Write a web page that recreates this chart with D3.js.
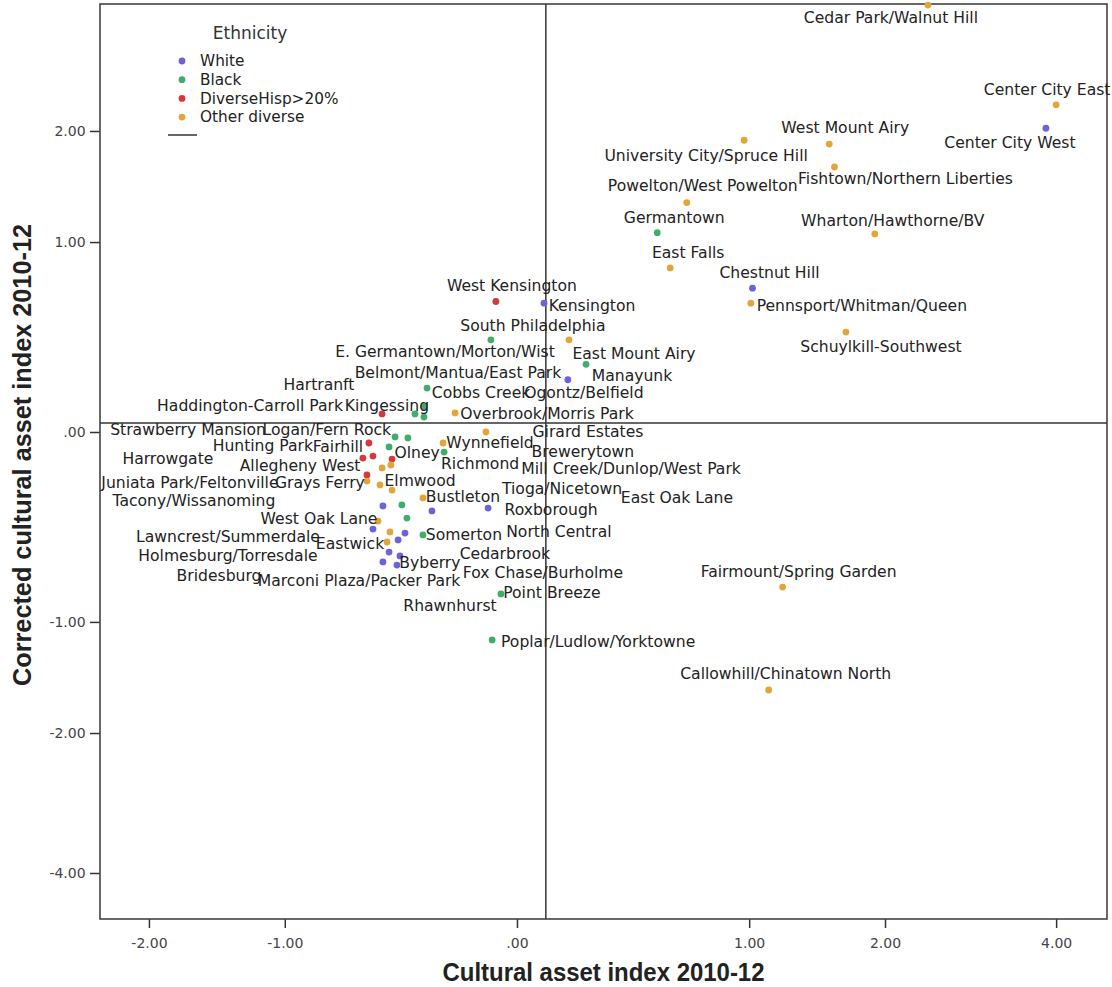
<!DOCTYPE html>
<html><head><meta charset="utf-8">
<script src="https://cdn.jsdelivr.net/npm/d3@7/dist/d3.min.js"></script>
<style>body{margin:0;background:#fff}</style>
</head><body><svg id="c" width="1112" height="987"></svg>
<script>
// ---------- data ----------
const categories = ["White", "Black", "DiverseHisp>20%", "Other diverse"];
const names = [
 "Cedar Park/Walnut Hill","Center City East","Center City West","West Mount Airy","University City/Spruce Hill",
 "Fishtown/Northern Liberties","Powelton/West Powelton","Germantown","Wharton/Hawthorne/BV","East Falls",
 "Chestnut Hill","Pennsport/Whitman/Queen","Schuylkill-Southwest","West Kensington","Kensington",
 "South Philadelphia","East Mount Airy","Manayunk","Ogontz/Belfield","Cobbs Creek",
 "Belmont/Mantua/East Park","Hartranft","Kingessing","Haddington-Carroll Park","Overbrook/Morris Park",
 "Girard Estates","Strawberry Mansion","Logan/Fern Rock","Olney","Hunting Park",
 "Fairhill","Harrowgate","Allegheny West","Wynnefield","Richmond",
 "Brewerytown","Mill Creek/Dunlop/West Park","Juniata Park/Feltonville","Grays Ferry","Elmwood",
 "Tioga/Nicetown","Bustleton","Roxborough","East Oak Lane","Tacony/Wissanoming",
 "North Central","Cedarbrook","West Oak Lane","Lawncrest/Summerdale","Somerton",
 "E. Germantown/Morton/Wist","Eastwick","Marconi Plaza/Packer Park","Rhawnhurst","Bridesburg",
 "Fox Chase/Burholme","Holmesburg/Torresdale","Byberry","Point Breeze","Poplar/Ludlow/Yorktowne",
 "Fairmount/Spring Garden","Callowhill/Chinatown North"
];
const ethnicity = [
 "Other diverse","Other diverse","White","Other diverse","Other diverse",
 "Other diverse","Other diverse","Black","Other diverse","Other diverse",
 "White","Other diverse","Other diverse","DiverseHisp>20%","White",
 "Black","Other diverse","Black","White","Black",
 "Black","Black","Black","DiverseHisp>20%","Other diverse",
 "Other diverse","Black","Black","Black","DiverseHisp>20%",
 "DiverseHisp>20%","DiverseHisp>20%","DiverseHisp>20%","Other diverse","Black",
 "Other diverse","Other diverse","DiverseHisp>20%","Other diverse","Other diverse",
 "Other diverse","Other diverse","White","White","White",
 "Black","Black","Other diverse","White","Black",
 "Other diverse","Other diverse","White","White","White",
 "White","White","White","Black","Black",
 "Other diverse","Other diverse"
];
const culturalIndex = [
 2.41, 4.00, 3.85, 1.54, 0.97,
 1.58, 0.66, 0.52, 1.91, 0.58,
 1.02, 1.01, 1.67, -0.065, 0.084,
 -0.081, 0.168, 0.229, 0.164, -0.308,
 -0.320, -0.356, -0.320, -0.496, -0.203,
 -0.097, -0.439, -0.385, -0.465, -0.556,
 -0.537, -0.584, -0.452, -0.247, -0.243,
 -0.457, -0.496, -0.565, -0.565, -0.505,
 -0.452, -0.324, -0.090, -0.289, -0.492,
 -0.410, -0.389, -0.514, -0.537, -0.324,
 -0.461, -0.474, -0.426, -0.397, -0.465,
 -0.418, -0.492, -0.431, -0.049, -0.077,
 1.21, 1.12
];
const correctedIndex = [
 3.75, 2.30, 2.03, 1.86, 1.90,
 1.63, 1.31, 1.07, 1.06, 0.82,
 0.69, 0.60, 0.44, 0.61, 0.60,
 0.40, 0.40, 0.28, 0.21, 0.174,
 0.096, 0.068, 0.056, 0.068, 0.072,
 0.0, -0.018, -0.022, -0.056, -0.041,
 -0.092, -0.100, -0.104, -0.041, -0.076,
 -0.128, -0.140, -0.170, -0.196, -0.213,
 -0.236, -0.272, -0.320, -0.334, -0.310,
 -0.305, -0.369, -0.384, -0.425, -0.456,
 -0.440, -0.494, -0.483, -0.446, -0.550,
 -0.572, -0.607, -0.625, -0.806, -1.136,
 -0.761, -1.564
];
const xTicks = [-2, -1, 0, 1, 2, 4];
const yTicks = [2, 1, 0, -1, -2, -4];
const refX = 0.09, refY = 0.033;   // reference lines
const xTitle = "Cultural asset index 2010-12";
const yTitle = "Corrected cultural asset index 2010-12";
const legendTitle = "Ethnicity";

// ---------- layout (label placement, px offsets of label centre from point) ----------
const labelOffsets = [
 [-37,13],[-9,-15],[-36,14],[16,-17],[-38,15],
 [71,12],[16,-17],[17,-15],[18,-13],[18,-15],
 [17,-16],[111,2],[35,14],[16,-16],[48,2],
 [42,-14],[65,14],[46,11],[16,13],[54,5],
 [34,-34],[-96,-29],[-37,-12],[-132,-8],[92,1],
 [102,0],[-207,-7],[-81,-8],[28,6],[-106,3],
 [-35,-10],[-195,0],[-92,6],[47,0],[36,11],
 [192,-13],[249,1],[-177,8],[-47,2],[40,-4],
 [170,-2],[40,-1],[63,1],[245,-13],[-189,-5],
 [157,27],[98,35],[-59,-2],[-145,8],[41,0],
 [55,-180],[-37,2],[-39,41],[45,72],[-170,23],
 [143,17],[-155,-6],[33,-2],[51,-1],[106,2],
 [16,-16],[17,-16]
];

const colors = {"White":"#6b63d6","Black":"#3fae6a","DiverseHisp>20%":"#d6393d","Other diverse":"#e3a53a"};

const L = 100, R = 1107, T = 4, B = 919;
const svg = d3.select("#c");
svg.append("rect").attr("width",1112).attr("height",987).attr("fill","#fff");

const x = d3.scaleSymlog().constant(1).domain([-2.472, 4.820]).range([L, R]);
const y = d3.scaleSymlog().constant(1).domain([-4.914, 3.768]).range([B, T]);

const fmt = v => v === 0 ? ".00" : (v < 0 ? "-" : "") + Math.abs(v).toFixed(2);

// axes
const gx = svg.append("g").attr("transform", `translate(0,${B})`)
  .call(d3.axisBottom(x).tickValues(xTicks).tickFormat(fmt).tickSize(9).tickSizeOuter(0));
const gy = svg.append("g").attr("transform", `translate(${L},0)`)
  .call(d3.axisLeft(y).tickValues(yTicks).tickFormat(fmt).tickSize(10).tickSizeOuter(0));
[gx, gy].forEach(g => {
  g.select(".domain").remove();
  g.selectAll(".tick line").attr("stroke", "#333").attr("stroke-width", 1.5);
  g.selectAll(".tick text").attr("font-family", "DejaVu Sans").attr("font-size", 14).attr("fill", "#444");
});
gx.selectAll(".tick text").attr("dy", "1.2em");
gy.selectAll(".tick text").attr("dx", "-0.1em");

// frame
svg.append("rect").attr("x", L).attr("y", T).attr("width", R - L).attr("height", B - T)
  .attr("fill", "none").attr("stroke", "#444").attr("stroke-width", 1.6);

// reference lines
svg.append("line").attr("x1", x(refX)).attr("x2", x(refX)).attr("y1", T).attr("y2", B)
  .attr("stroke", "#333").attr("stroke-width", 1.5);
svg.append("line").attr("x1", L).attr("x2", R).attr("y1", y(refY)).attr("y2", y(refY))
  .attr("stroke", "#333").attr("stroke-width", 1.5);

// points
const data = names.map((n, i) => ({name: n, eth: ethnicity[i], cx: culturalIndex[i], cy: correctedIndex[i], off: labelOffsets[i]}));
svg.append("g").selectAll("circle").data(data).join("circle")
  .attr("cx", d => x(d.cx)).attr("cy", d => y(d.cy)).attr("r", 3.4)
  .attr("fill", d => colors[d.eth]);

svg.append("g").selectAll("text").data(data).join("text")
  .attr("x", d => x(d.cx) + d.off[0]).attr("y", d => y(d.cy) + d.off[1])
  .attr("dy", "0.35em").attr("text-anchor", "middle")
  .attr("font-family", "DejaVu Sans").attr("font-size", 15.6).attr("fill", "#222")
  .text(d => d.name);

// axis titles
svg.append("text").attr("x", (L + R) / 2).attr("y", 981).attr("text-anchor", "middle")
  .attr("font-family", "Liberation Sans, Arial, sans-serif").attr("font-weight", "bold")
  .attr("font-size", 26).attr("fill", "#222")
  .attr("textLength", 322).attr("lengthAdjust", "spacingAndGlyphs").text(xTitle);
svg.append("text").attr("transform", `translate(31,455) rotate(-90)`).attr("text-anchor", "middle")
  .attr("font-family", "Liberation Sans, Arial, sans-serif").attr("font-weight", "bold")
  .attr("font-size", 26).attr("fill", "#222")
  .attr("textLength", 462).attr("lengthAdjust", "spacingAndGlyphs").text(yTitle);

// legend
const lg = svg.append("g");
lg.append("text").attr("x", 250).attr("y", 39).attr("text-anchor", "middle")
  .attr("font-family", "DejaVu Sans").attr("font-size", 17).attr("fill", "#333").text(legendTitle);
categories.forEach((c, i) => {
  const yy = 61 + i * 18.7;
  lg.append("circle").attr("cx", 182).attr("cy", yy).attr("r", 3.4).attr("fill", colors[c]);
  lg.append("text").attr("x", 200).attr("y", yy).attr("dy", "0.35em")
    .attr("font-family", "DejaVu Sans").attr("font-size", 15.3).attr("fill", "#222").text(c);
});
lg.append("line").attr("x1", 168).attr("x2", 197).attr("y1", 135).attr("y2", 135)
  .attr("stroke", "#333").attr("stroke-width", 1.5);
</script></body></html>
